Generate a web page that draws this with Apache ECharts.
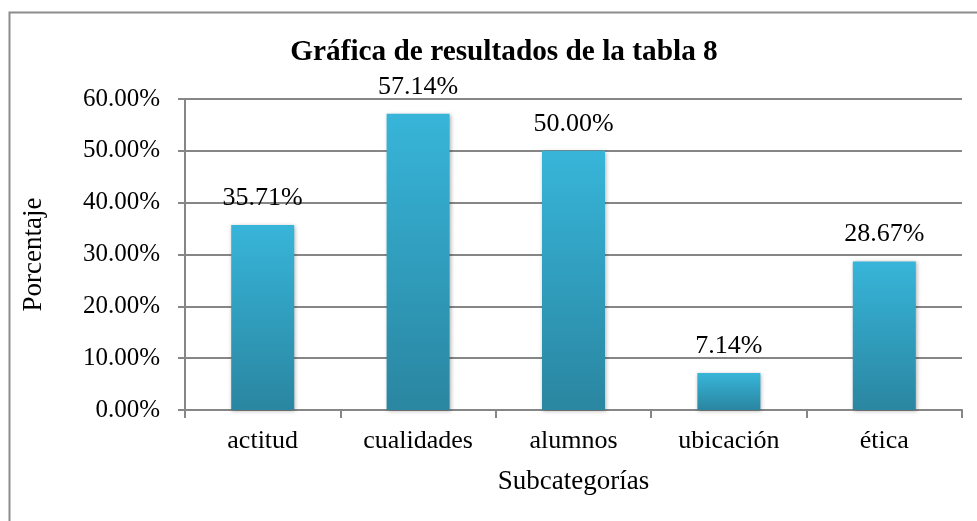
<!DOCTYPE html>
<html><head><meta charset="utf-8">
<script src="https://cdn.jsdelivr.net/npm/echarts@6/dist/echarts.min.js"></script>
<style>html,body{margin:0;padding:0;background:#fff}#c{width:977px;height:521px}</style>
</head><body><div id="c"></div>
<script>
var categories = ['actitud', 'cualidades', 'alumnos', 'ubicación', 'ética'];
var values = [35.71, 57.14, 50.00, 7.14, 28.67];
var yTicks = [0, 10, 20, 30, 40, 50, 60];
var title = 'Gráfica de resultados de la tabla 8';
var xName = 'Subcategorías';
var yName = 'Porcentaje';

var F = '"Liberation Serif", "Times New Roman", serif';
var chart = echarts.init(document.getElementById('c'), null, {renderer: 'canvas'});
chart.setOption({
  animation: false,
  backgroundColor: '#fff',
  graphic: [{type: 'rect', shape: {x: 9.5, y: 12.5, width: 1000, height: 600},
    style: {fill: 'none', stroke: '#8c8c8c', lineWidth: 2}, silent: true}],
  title: {text: title, left: 499, top: 33, textAlign: 'center',
    textStyle: {fontFamily: F, fontWeight: 'bold', fontSize: 29.3, color: '#000'}},
  grid: {left: 185, right: 15, top: 99, bottom: 111, containLabel: false},
  xAxis: {type: 'category', data: categories, name: xName, nameLocation: 'middle', nameGap: 58,
    nameTextStyle: {fontFamily: F, fontSize: 27, color: '#000'},
    axisLine: {lineStyle: {color: '#868686', width: 2}},
    axisTick: {show: true, length: 8, alignWithLabel: false, lineStyle: {color: '#868686', width: 2}},
    axisLabel: {fontFamily: F, fontSize: 26, color: '#000', margin: 18}},
  yAxis: {type: 'value', min: 0, max: 60, interval: 10, name: yName, nameLocation: 'middle', nameGap: 138,
    nameTextStyle: {fontFamily: F, fontSize: 27, color: '#000'},
    axisLine: {show: true, lineStyle: {color: '#868686', width: 2}},
    axisTick: {show: true, length: 7, lineStyle: {color: '#868686', width: 2}},
    splitLine: {show: true, lineStyle: {color: '#868686', width: 2}},
    axisLabel: {fontFamily: F, fontSize: 25, color: '#000', margin: 25,
      formatter: function (v) { return v.toFixed(2) + '%'; }}},
  series: [{type: 'bar', data: values, barWidth: 63,
    itemStyle: {color: new echarts.graphic.LinearGradient(0, 0, 0, 1, [
      {offset: 0, color: '#37b5d9'}, {offset: 1, color: '#2a86a1'}]),
      shadowColor: 'rgba(0,0,0,0.3)', shadowBlur: 4, shadowOffsetX: 1, shadowOffsetY: 1},
    label: {show: true, position: 'top', distance: 14, fontFamily: F, fontSize: 26, color: '#000',
      formatter: function (p) { return p.value.toFixed(2) + '%'; }}}]
});
</script></body></html>
